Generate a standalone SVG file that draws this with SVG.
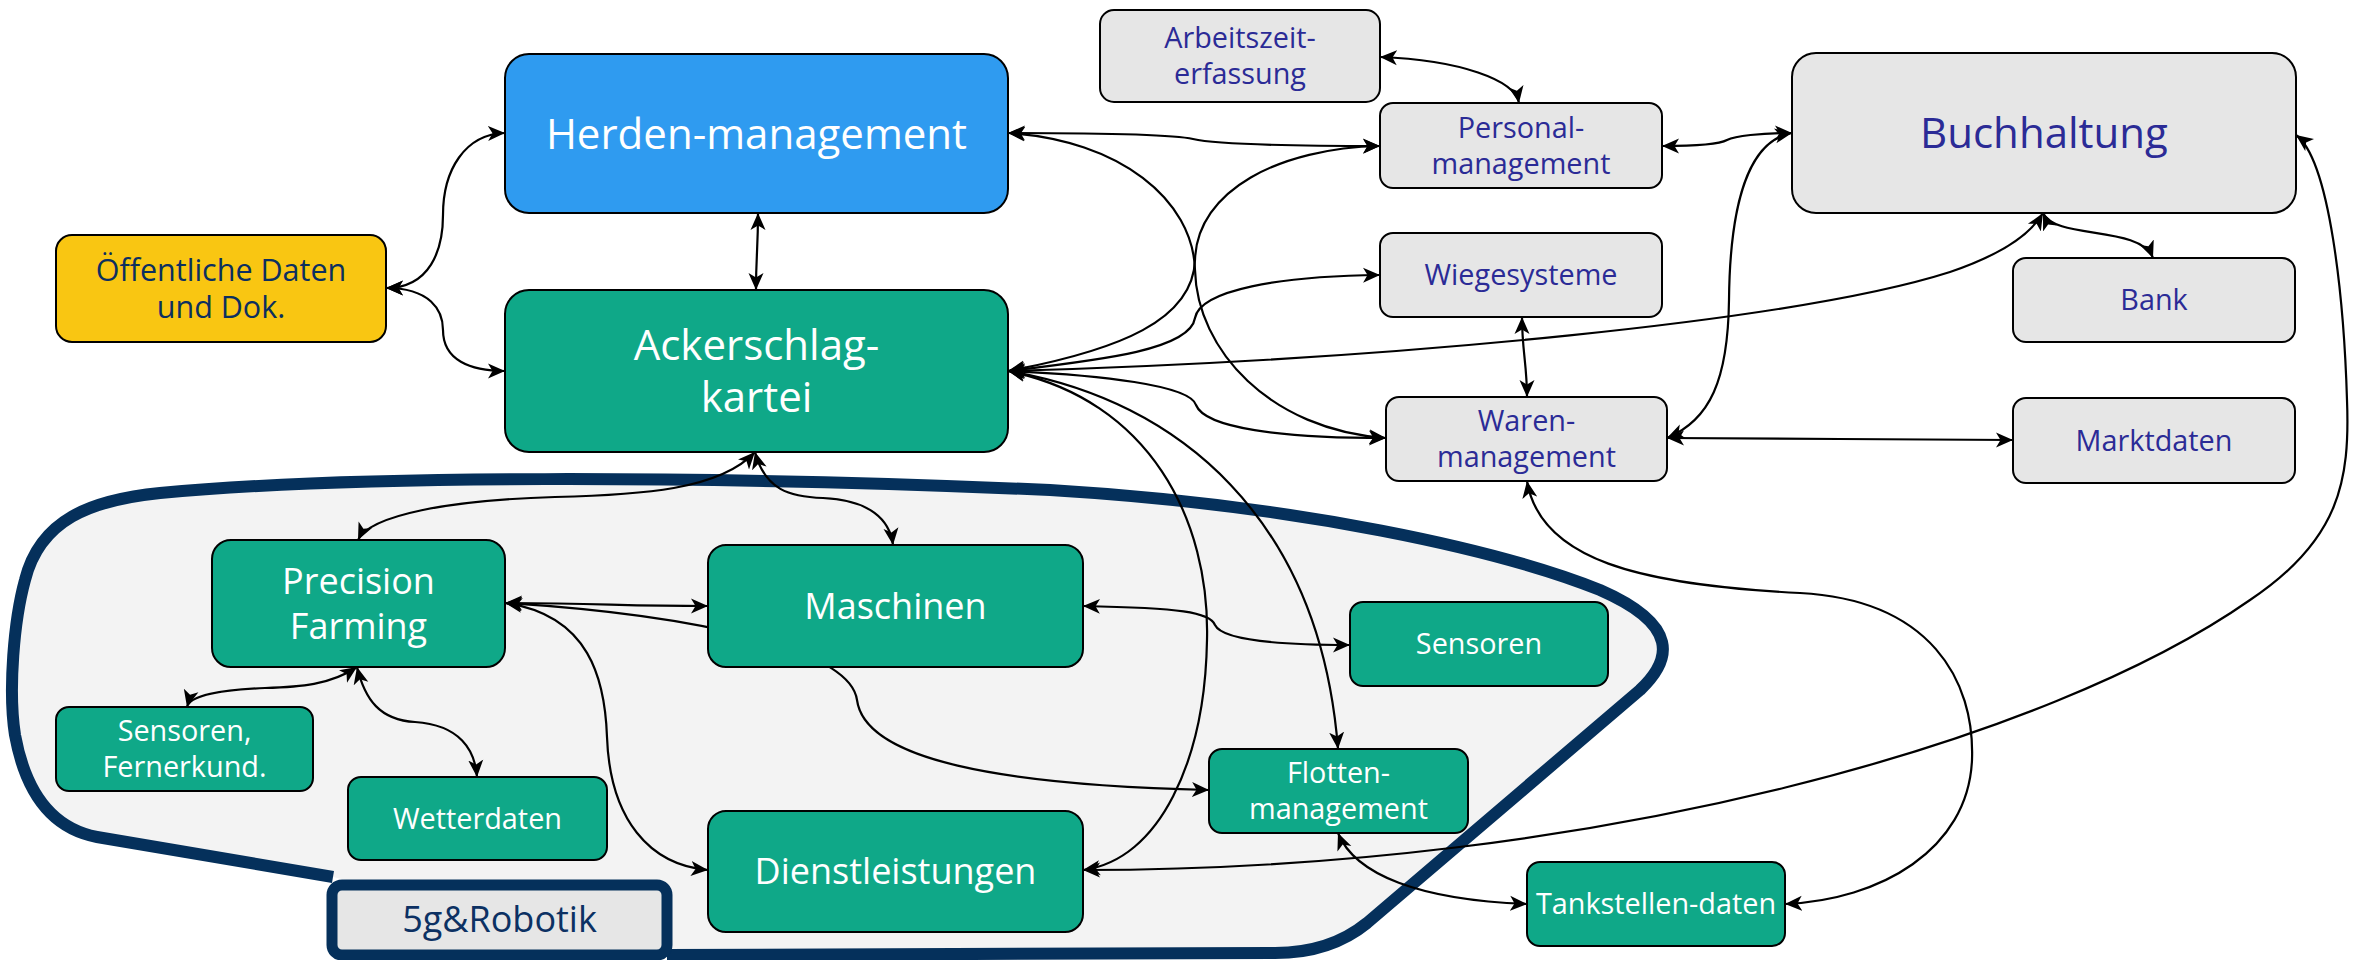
<svg xmlns="http://www.w3.org/2000/svg" width="2356" height="960" viewBox="0 0 2356 960">
  <defs>
    <style>
      .node { stroke: #000; stroke-width: 2; }
      .blue { fill: #2f9bf0; }
      .green { fill: #0fa888; }
      .yellow { fill: #f9c612; }
      .gray { fill: #e6e6e6; }
      text { font-family: "Open Sans", "Liberation Sans", sans-serif; text-anchor: middle; }
      .tw { fill: #ffffff; }
      .tg { fill: #2b2b96; }
      .tn { fill: #0c2f5f; }
      .f42 { font-size: 42px; }
      .f36 { font-size: 36px; }
      .f31 { font-size: 30.5px; }
      .f29 { font-size: 28.8px; }
      .edge { fill: none; stroke: #000; stroke-width: 2.2; marker-start: url(#ah); marker-end: url(#ah); }
    </style>
    <marker id="ah" viewBox="0 0 18 16" refX="17" refY="8" markerWidth="18" markerHeight="16" markerUnits="userSpaceOnUse" orient="auto-start-reverse">
      <path d="M0,0.5 L17,8 L0,15.5 L4.5,8 Z" fill="#000"/>
    </marker>
  </defs>

  <rect width="2356" height="960" fill="#ffffff"/>

  <!-- 5g & robotics area outline -->
  <g id="area-5g">
    <path d="M 333,877 L 97,837 C 50,828 25,790 15,735 C 8,690 14,620 25,580 C 40,520 90,500 160,493 C 350,475 700,475 1050,490 C 1300,505 1500,550 1600,590 C 1680,625 1672,660 1640,690 L 1367,923 C 1340,945 1310,953 1275,953 L 667,955"
          fill="#f3f3f3" stroke="#05305b" stroke-width="12" stroke-linejoin="round"/>
  </g>
  <g id="label-5g">
    <rect x="332" y="885" width="335" height="70" rx="10" fill="#e6e6e6" stroke="#05305b" stroke-width="11"/>
    <text x="499.5" y="932" class="f36" fill="#0c3163">5g&amp;Robotik</text>
  </g>

  <!-- connectors -->
  <g id="connectors">
    <path class="edge" d="M 386,288 C 430,288 443,250 443,215 C 443,170 465,134 505,133"/>
    <path class="edge" d="M 386,288 C 430,288 443,310 443,330 C 443,360 470,371 505,371"/>
    <path class="edge" d="M 758,213 C 758,250 756,255 756,290"/>
    <path class="edge" d="M 1008,133 C 1150,133 1180,136 1193,139 C 1206,142 1250,146 1380,146"/>
    <path class="edge" d="M 1008,133 C 1120,140 1193,200 1195,270 C 1197,350 1270,430 1386,438"/>
    <path class="edge" d="M 1008,371 C 1120,350 1193,320 1195,260 C 1197,190 1280,148 1380,146"/>
    <path class="edge" d="M 1008,371 C 1100,360 1190,350 1195,318 C 1200,290 1280,276 1380,275"/>
    <path class="edge" d="M 1008,371 C 1100,375 1190,385 1196,405 C 1205,428 1280,438 1386,438"/>
    <path class="edge" d="M 1008,371 C 1400,360 1800,320 1950,272 C 2000,255 2030,235 2043,213"/>
    <path class="edge" d="M 1008,371 C 1180,400 1320,520 1338,749"/>
    <path class="edge" d="M 1008,371 C 1150,400 1210,520 1207,640 C 1205,760 1160,860 1083,870"/>
    <path class="edge" d="M 1667,438 C 1710,420 1728,380 1729,300 C 1730,200 1750,140 1792,133"/>
    <path class="edge" d="M 1662,146 C 1700,146 1720,144 1727,140 C 1735,136 1760,133 1792,133"/>
    <path class="edge" d="M 1522,317 C 1522,350 1527,365 1527,397"/>
    <path class="edge" d="M 1667,438 C 1800,438 1880,440 2013,440"/>
    <path class="edge" d="M 2043,213 C 2055,240 2140,225 2153,258"/>
    <path class="edge" d="M 1380,57 C 1460,60 1515,80 1519,103"/>
    <path class="edge" d="M 1527,481 C 1540,560 1640,585 1800,593 C 1930,600 1975,680 1972,760 C 1968,850 1880,900 1785,904"/>
    <path class="edge" d="M 1083,870 C 1600,870 2050,740 2250,600 C 2340,540 2350,480 2347,400 C 2344,300 2330,160 2296,135"/>
    <path class="edge" d="M 755,452 C 720,490 640,495 555,497 C 450,500 370,515 358,540"/>
    <path class="edge" d="M 755,452 C 765,490 790,497 823,498 C 870,500 890,520 893,545"/>
    <path class="edge" d="M 505,603 C 600,603 620,606 708,606"/>
    <path class="edge" d="M 505,603 C 700,615 850,650 857,700 C 865,760 1000,785 1209,790"/>
    <path class="edge" d="M 357,667 C 330,685 300,687 265,688 C 220,690 190,695 187,707"/>
    <path class="edge" d="M 357,667 C 365,700 380,720 415,722 C 460,725 475,750 477,777"/>
    <path class="edge" d="M 505,603 C 590,615 605,680 607,737 C 610,820 650,865 708,870"/>
    <path class="edge" d="M 1083,606 C 1180,608 1210,612 1215,625 C 1222,640 1280,645 1350,645"/>
    <path class="edge" d="M 1338,833 C 1355,875 1420,900 1527,904"/>
  </g>

  <!-- nodes -->
  <g id="herden">
    <rect class="node blue" x="505" y="54" width="503" height="159" rx="24"/>
    <text class="tw f42" x="756.5" y="148.5">Herden-management</text>
  </g>
  <g id="ackerschlag">
    <rect class="node green" x="505" y="290" width="503" height="162" rx="24"/>
    <text class="tw f42" x="756.5"><tspan x="756.5" y="360">Ackerschlag-</tspan><tspan x="756.5" y="412">kartei</tspan></text>
  </g>
  <g id="oeffentliche-daten">
    <rect class="node yellow" x="56" y="235" width="330" height="107" rx="16"/>
    <text class="tn f31"><tspan x="221" y="281">Öffentliche Daten</tspan><tspan x="221" y="318">und Dok.</tspan></text>
  </g>
  <g id="arbeitszeit">
    <rect class="node gray" x="1100" y="10" width="280" height="92" rx="14"/>
    <text class="tg f29"><tspan x="1240" y="48">Arbeitszeit-</tspan><tspan x="1240" y="84">erfassung</tspan></text>
  </g>
  <g id="personal">
    <rect class="node gray" x="1380" y="103" width="282" height="85" rx="13"/>
    <text class="tg f29"><tspan x="1521" y="138">Personal-</tspan><tspan x="1521" y="174">management</tspan></text>
  </g>
  <g id="wiegesysteme">
    <rect class="node gray" x="1380" y="233" width="282" height="84" rx="13"/>
    <text class="tg f29" x="1521" y="285">Wiegesysteme</text>
  </g>
  <g id="warenmanagement">
    <rect class="node gray" x="1386" y="397" width="281" height="84" rx="13"/>
    <text class="tg f29"><tspan x="1526.5" y="431">Waren-</tspan><tspan x="1526.5" y="467">management</tspan></text>
  </g>
  <g id="buchhaltung">
    <rect class="node gray" x="1792" y="53" width="504" height="160" rx="24"/>
    <text class="tg f42" x="2044" y="148">Buchhaltung</text>
  </g>
  <g id="bank">
    <rect class="node gray" x="2013" y="258" width="282" height="84" rx="13"/>
    <text class="tg f29" x="2154" y="310">Bank</text>
  </g>
  <g id="marktdaten">
    <rect class="node gray" x="2013" y="398" width="282" height="85" rx="13"/>
    <text class="tg f29" x="2154" y="451">Marktdaten</text>
  </g>
  <g id="precision-farming">
    <rect class="node green" x="212" y="540" width="293" height="127" rx="19"/>
    <text class="tw f36"><tspan x="358.5" y="594">Precision</tspan><tspan x="358.5" y="639">Farming</tspan></text>
  </g>
  <g id="maschinen">
    <rect class="node green" x="708" y="545" width="375" height="122" rx="18"/>
    <text class="tw f36" x="895.5" y="619">Maschinen</text>
  </g>
  <g id="sensoren-fernerkundung">
    <rect class="node green" x="56" y="707" width="257" height="84" rx="13"/>
    <text class="tw f29"><tspan x="184.5" y="741">Sensoren,</tspan><tspan x="184.5" y="777">Fernerkund.</tspan></text>
  </g>
  <g id="wetterdaten">
    <rect class="node green" x="348" y="777" width="259" height="83" rx="13"/>
    <text class="tw f29" x="477.5" y="829">Wetterdaten</text>
  </g>
  <g id="dienstleistungen">
    <rect class="node green" x="708" y="811" width="375" height="121" rx="18"/>
    <text class="tw f36" x="895.5" y="884">Dienstleistungen</text>
  </g>
  <g id="sensoren">
    <rect class="node green" x="1350" y="602" width="258" height="84" rx="13"/>
    <text class="tw f29" x="1479" y="654">Sensoren</text>
  </g>
  <g id="flottenmanagement">
    <rect class="node green" x="1209" y="749" width="259" height="84" rx="13"/>
    <text class="tw f29"><tspan x="1338.5" y="783">Flotten-</tspan><tspan x="1338.5" y="819">management</tspan></text>
  </g>
  <g id="tankstellen">
    <rect class="node green" x="1527" y="862" width="258" height="84" rx="13"/>
    <text class="tw f29" x="1656" y="914">Tankstellen-daten</text>
  </g>
</svg>
